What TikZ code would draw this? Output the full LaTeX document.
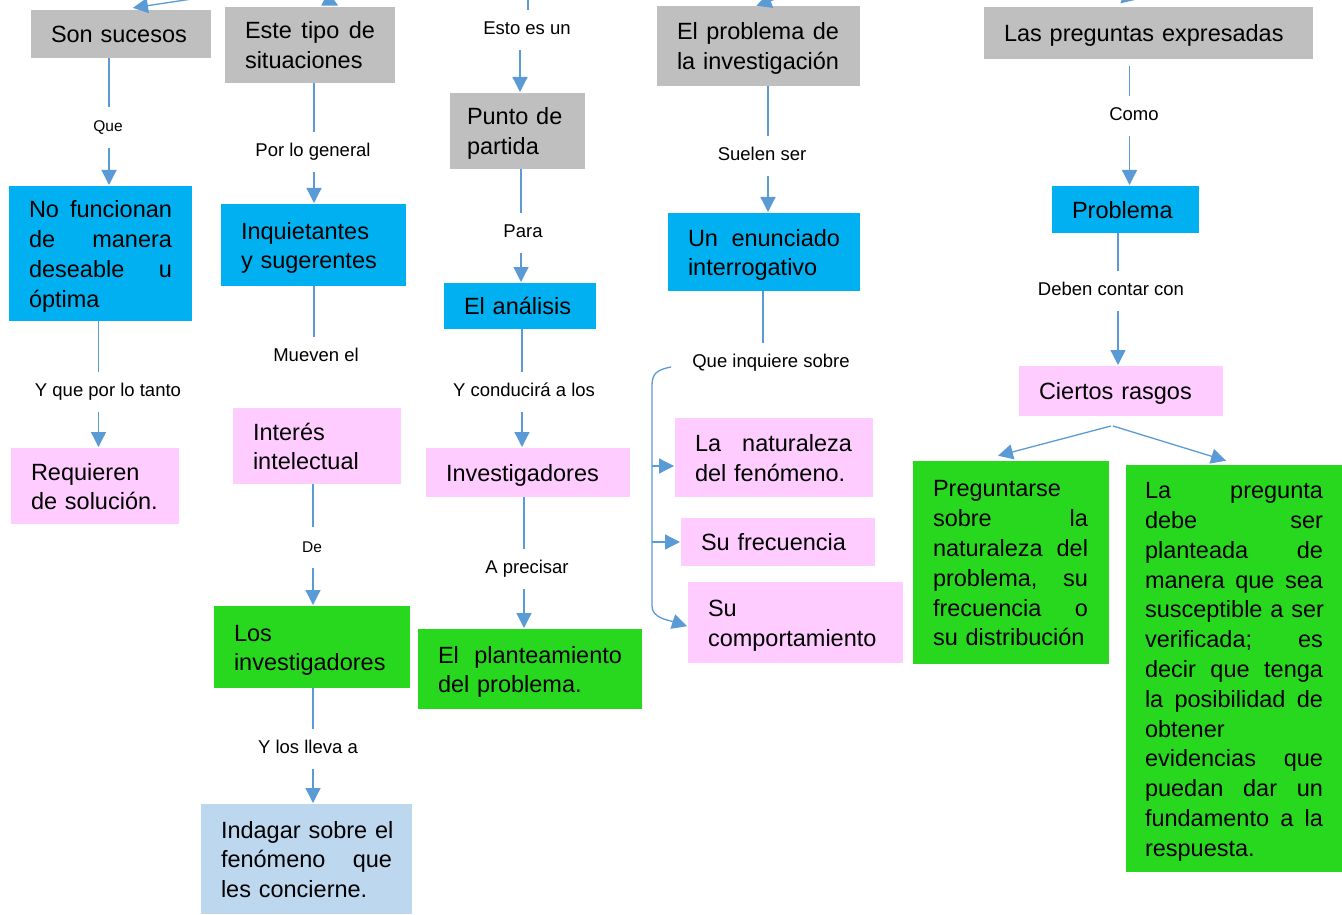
\documentclass[tikz,border=0pt]{standalone}
\usepackage{fontspec}
\setmainfont{Liberation Sans}
\usetikzlibrary{arrows.meta}
\definecolor{cgray}{HTML}{BFBFBF}
\definecolor{cblue}{HTML}{00B0F0}
\definecolor{cpink}{HTML}{FFCCFF}
\definecolor{cgreen}{HTML}{28D81E}
\definecolor{clblue}{HTML}{BDD7EE}
\definecolor{cline}{HTML}{5B9BD5}
\setlength{\parindent}{0pt}
\setlength{\parskip}{0pt}
\newcommand\mainf{\fontsize{23.5}{29.8}\selectfont}
\newcommand\labf{\fontsize{18.5}{22}\selectfont}
\newcommand\labsf{\fontsize{15.5}{18}\selectfont}
\newcommand\jl[2]{\leavevmode\hbox to #1{#2}}
\newcommand\st{\rule[-6pt]{0pt}{29.8pt}}
\begin{document}
\begin{tikzpicture}[x=1pt,y=-1pt,
 bx/.style={inner xsep=20pt, inner ysep=0pt, outer sep=0pt, align=left, font=\mainf, text=black,
   execute at begin node=\st, execute at end node=\st},
 gb/.style={bx, fill=cgray}, bb/.style={bx, fill=cblue}, pb/.style={bx, fill=cpink},
 grb/.style={bx, fill=cgreen}, lb/.style={bx, fill=clblue},
 lbl/.style={font=\labf, inner xsep=2pt, inner ysep=11.5pt, text height=13pt, text depth=4pt},
 lbls/.style={lbl, font=\labsf},
 conn/.style={draw=cline, line width=1.3pt},
 arr/.style={conn, -{Triangle[length=15pt,width=15pt]}, shorten >=1pt}]
\useasboundingbox (0,0) rectangle (1342,915);
\fill[white] (0,0) rectangle (1342,915);
\clip (0,0) rectangle (1342,915);

% axes and free ends
\coordinate (a1) at (109,0);
\coordinate (a2) at (98.5,0);
\coordinate (a3) at (314,0);
\coordinate (a5) at (313,0);
\coordinate (a7) at (520,0);
\coordinate (a8) at (521,0);
\coordinate (a9) at (522,0);
\coordinate (a10) at (524,0);
\coordinate (a11) at (768,0);
\coordinate (a12) at (763,0);
\coordinate (a13) at (1129.5,0);
\coordinate (a14) at (1118,0);
\coordinate (t1) at (232,-7);
\coordinate (t2) at (296,-16);
\coordinate (t3) at (528,-5);
\coordinate (t4) at (812,-14);
\coordinate (t5) at (1160,-30);

% boxes
\node[gb, minimum width=180pt, minimum height=48pt, text width=140pt] (sonsuc) at (121,34) {Son sucesos};
\node[gb, minimum width=170pt, minimum height=76pt, text width=130pt] (estetipo) at (310,45) {\jl{130pt}{Este \hfill tipo \hfill de}\\situaciones};
\node[gb, minimum width=135pt, minimum height=76pt, text width=101pt, inner xsep=17pt] (punto) at (517.5,131) {Punto de\\partida};
\node[gb, minimum width=203pt, minimum height=80pt, text width=163pt] (elprob) at (758.5,46) {\jl{162pt}{El \hfill problema \hfill de}\\la investigación};
\node[gb, minimum width=329pt, minimum height=52pt, text width=289pt] (laspreg) at (1148.5,33) {Las preguntas expresadas};

\node[bb, minimum width=183pt, minimum height=135pt, text width=143pt] (nofunc) at (100.5,253.5) {\jl{143pt}{No \hfill funcionan}\\\jl{143pt}{de \hfill manera}\\\jl{143pt}{deseable \hfill u}\\óptima};
\node[bb, minimum width=185pt, minimum height=82pt, text width=145pt] (inquiet) at (313.5,245) {Inquietantes\\y sugerentes};
\node[bb, minimum width=152pt, minimum height=46pt, text width=112pt] (analisis) at (520,306) {El análisis};
\node[bb, minimum width=192pt, minimum height=78pt, text width=152pt] (enunc) at (764,252) {\jl{152pt}{Un \hfill enunciado}\\interrogativo};
\node[bb, minimum width=147pt, minimum height=47pt, text width=107pt] (problema) at (1125.5,209.5) {Problema};

\node[pb, minimum width=204pt, minimum height=50pt, text width=164pt] (rasgos) at (1121,391) {Ciertos rasgos};
\node[pb, minimum width=168pt, minimum height=76pt, text width=128pt] (requieren) at (95,486) {Requieren\\de solución.};
\node[pb, minimum width=168pt, minimum height=76pt, text width=128pt] (interes) at (317,446) {Interés\\intelectual};
\node[pb, minimum width=204pt, minimum height=49pt, text width=164pt] (investig) at (528,472.5) {Investigadores};
\node[pb, minimum width=198pt, minimum height=79pt, text width=158pt] (natur) at (774,457.5) {\jl{157pt}{La \hfill naturaleza}\\del fenómeno.};
\node[pb, minimum width=194pt, minimum height=48pt, text width=154pt] (frec) at (778,542) {Su frecuencia};
\node[pb, minimum width=215pt, minimum height=81pt, text width=175pt] (comport) at (795.5,622.5) {Su\\comportamiento};

\node[grb, minimum width=196pt, minimum height=203pt, text width=156pt] (pregunt) at (1011,562.5) {Preguntarse\\\jl{155pt}{sobre \hfill la}\\\jl{155pt}{naturaleza \hfill del}\\\jl{155pt}{problema, \hfill su}\\\jl{155pt}{frecuencia \hfill o}\\su distribución};
\node[grb, minimum width=216pt, minimum height=407pt, text width=178pt, inner xsep=19pt] (lapreg) at (1234,668.5) {\jl{178pt}{La \hfill pregunta}\\\jl{178pt}{debe \hfill ser}\\\jl{178pt}{planteada \hfill de}\\\jl{178pt}{manera \hfill que \hfill sea}\\\jl{178pt}{susceptible \hfill a \hfill ser}\\\jl{178pt}{verificada; \hfill es}\\\jl{178pt}{decir \hfill que \hfill tenga}\\\jl{178pt}{la \hfill posibilidad \hfill de}\\obtener\\\jl{178pt}{evidencias \hfill que}\\\jl{178pt}{puedan \hfill dar \hfill un}\\\jl{178pt}{fundamento \hfill a \hfill la}\\respuesta.};
\node[grb, minimum width=196pt, minimum height=82pt, text width=156pt] (losinv) at (312,647) {Los\\investigadores};
\node[grb, minimum width=224pt, minimum height=80pt, text width=184pt] (plante) at (530,669) {\jl{184pt}{El \hfill planteamiento}\\del problema.};
\node[lb, minimum width=211pt, minimum height=110pt, text width=171pt] (indagar) at (306.5,859) {\jl{171pt}{Indagar \hfill sobre \hfill el}\\\jl{171pt}{fenómeno \hfill que}\\les concierne.};

% labels
\node[lbls] (que) at (108,127.5) {Que};
\node[lbl] (porlo) at (313,152) {Por lo general};
\node[lbl] (esto) at (527,30) {Esto es un};
\node[lbl] (suelen) at (762,156) {Suelen ser};
\node[lbl] (como) at (1134,116) {Como};
\node[lbl] (mueven) at (316,357) {Mueven el};
\node[lbl] (ytanto) at (108,392) {Y que por lo tanto};
\node[lbl] (para) at (523,233) {Para};
\node[lbl] (deben) at (1111,291) {Deben contar con};
\node[lbl] (queinq) at (771,363) {Que inquiere sobre};
\node[lbl] (yconduc) at (524,392) {Y conducirá a los};
\node[lbls] (de) at (312,547.5) {De};
\node[lbl] (aprec) at (527,569) {A precisar};
\node[lbl] (ylleva) at (308,749) {Y los lleva a};

% arrows entering from above
\draw[arr] (t1) -- ([xshift=11pt,yshift=2pt]sonsuc.north);
\draw[arr] (t2) -- ([xshift=29pt,yshift=1pt]estetipo.north);
\draw[conn] (t3) -- (esto.north -| t3);
\draw[arr] (t4) -- ([xshift=-3pt,yshift=0pt]elprob.north);
\draw[arr] (t5) -- ([xshift=-29pt,yshift=3pt]laspreg.north);

% column 1
\draw[conn] (sonsuc.south -| a1) -- (que.north -| a1);
\draw[arr] (que.south -| a1) -- (nofunc.north -| a1);
\draw[conn] (nofunc.south -| a2) -- (ytanto.north -| a2);
\draw[arr] (ytanto.south -| a2) -- (requieren.north -| a2);

% column 2
\draw[conn] (estetipo.south -| a3) -- (porlo.north -| a3);
\draw[arr] (porlo.south -| a3) -- (inquiet.north -| a3);
\draw[conn] (inquiet.south -| a3) -- (mueven.north -| a3);
\draw[conn] (interes.south -| a5) -- (de.north -| a5);
\draw[arr] (de.south -| a5) -- (losinv.north -| a5);
\draw[conn] (losinv.south -| a5) -- (ylleva.north -| a5);
\draw[arr] (ylleva.south -| a5) -- (indagar.north -| a5);

% column 3
\draw[arr] (esto.south -| a7) -- (punto.north -| a7);
\draw[conn] (punto.south -| a8) -- (para.north -| a8);
\draw[arr] (para.south -| a8) -- (analisis.north -| a8);
\draw[conn] (analisis.south -| a9) -- (yconduc.north -| a9);
\draw[arr] (yconduc.south -| a9) -- (investig.north -| a9);
\draw[conn] (investig.south -| a10) -- (aprec.north -| a10);
\draw[arr] (aprec.south -| a10) -- (plante.north -| a10);

% column 4
\draw[conn] (elprob.south -| a11) -- (suelen.north -| a11);
\draw[arr] (suelen.south -| a11) -- (enunc.north -| a11);
\draw[conn] (enunc.south -| a12) -- (queinq.north -| a12);
\coordinate (brk) at (671,367);
\coordinate (b1) at (652,466);
\coordinate (b2) at (652,542);
\draw[arr] (brk) .. controls (656,370) and (652,374) .. (652,386) -- (652,606) .. controls (652,618) and (668,620) .. ([yshift=-4pt]comport.west);
\draw[arr] (b1) -- (b1 -| natur.west);
\draw[arr] (b2) -- (b2 -| frec.west);

% column 5
\draw[conn] ([yshift=-7pt]laspreg.south -| a13) -- (como.north -| a13);
\draw[arr] (como.south -| a13) -- (problema.north -| a13);
\draw[conn] (problema.south -| a14) -- (deben.north -| a14);
\draw[arr] (deben.south -| a14) -- (rasgos.north -| a14);
\draw[arr] ([xshift=-10pt,yshift=-10pt]rasgos.south) -- ([xshift=-14pt,yshift=5pt]pregunt.north);
\draw[arr] ([xshift=-8pt,yshift=-10pt]rasgos.south) -- ([xshift=-7pt,yshift=4pt]lapreg.north);
\end{tikzpicture}
\end{document}
